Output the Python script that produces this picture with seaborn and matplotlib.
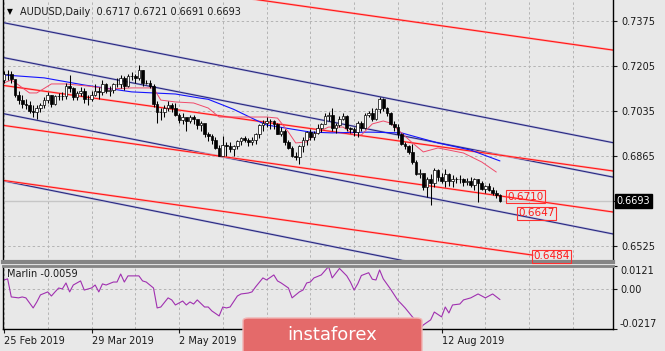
import numpy as np
import pandas as pd
import matplotlib
matplotlib.use('Agg')
import matplotlib.pyplot as plt
import seaborn as sns
from matplotlib.patches import FancyBboxPatch
from matplotlib.transforms import blended_transform_factory

# ------------------------------------------------------------------
# AUDUSD daily bars, 25 Feb 2019 .. 3 Sep 2019
# ------------------------------------------------------------------
FIRST_OPEN = 0.7150
closes = [
    0.7172, 0.7175, 0.7155, 0.7095, 0.7075, 0.7060, 0.7055, 0.7035, 0.7030, 0.7045,
    0.7055, 0.7075, 0.7095, 0.7060, 0.7090, 0.7090, 0.7090, 0.7130, 0.7120, 0.7085,
    0.7100, 0.7110, 0.7080, 0.7080, 0.7095, 0.7110, 0.7105, 0.7135, 0.7110, 0.7115,
    0.7135, 0.7135, 0.7160, 0.7130, 0.7165, 0.7165, 0.7160, 0.7190, 0.7140, 0.7140,
    0.7130, 0.7060, 0.7030, 0.7030, 0.7045, 0.7055, 0.7045, 0.7020, 0.7000, 0.7010,
    0.6995, 0.7010, 0.7005, 0.6980, 0.6990, 0.6945, 0.6940, 0.6925, 0.6895, 0.6865,
    0.6905, 0.6900, 0.6890, 0.6900, 0.6920, 0.6930, 0.6925, 0.6915, 0.6925, 0.6945,
    0.6980, 0.6990, 0.6995, 0.6995, 0.6985, 0.6945, 0.6960, 0.6915, 0.6895, 0.6865,
    0.6860, 0.6900, 0.6925, 0.6955, 0.6935, 0.6950, 0.6970, 0.6985, 0.7015, 0.7020,
    0.6970, 0.6980, 0.7005, 0.7015, 0.6970, 0.6965, 0.6955, 0.6990, 0.6970, 0.7020,
    0.7025, 0.7005, 0.7040, 0.7080, 0.7045, 0.7025, 0.6985, 0.6975, 0.6945, 0.6910,
    0.6900, 0.6880, 0.6840, 0.6795, 0.6800, 0.6745, 0.6775, 0.6760, 0.6810, 0.6785,
    0.6770, 0.6795, 0.6770, 0.6775, 0.6775, 0.6775, 0.6765, 0.6770, 0.6755, 0.6775,
    0.6760, 0.6740, 0.6750, 0.6735, 0.6725, 0.6717, 0.6693,
]
highs = [
    0.7185, 0.7190, 0.7185, 0.7150, 0.7110, 0.7095, 0.7080, 0.7070, 0.7055, 0.7055,
    0.7065, 0.7085, 0.7105, 0.7095, 0.7095, 0.7100, 0.7105, 0.7140, 0.7170, 0.7125,
    0.7110, 0.7125, 0.7120, 0.7095, 0.7110, 0.7135, 0.7125, 0.7150, 0.7140, 0.7130,
    0.7140, 0.7160, 0.7170, 0.7165, 0.7175, 0.7180, 0.7175, 0.7206, 0.7190, 0.7150,
    0.7150, 0.7135, 0.7070, 0.7045, 0.7055, 0.7070, 0.7065, 0.7065, 0.7025, 0.7025,
    0.7000, 0.7020, 0.7020, 0.7000, 0.6995, 0.6985, 0.6955, 0.6945, 0.6935, 0.6905,
    0.6940, 0.6915, 0.6915, 0.6905, 0.6925, 0.6935, 0.6940, 0.6930, 0.6935, 0.6950,
    0.6985, 0.7000, 0.7010, 0.7005, 0.7000, 0.6990, 0.6975, 0.6965, 0.6925, 0.6900,
    0.6880, 0.6905, 0.6935, 0.6960, 0.6965, 0.6960, 0.6985, 0.6990, 0.7025, 0.7030,
    0.7045, 0.6990, 0.7015, 0.7025, 0.7020, 0.6975, 0.6975, 0.6995, 0.6995, 0.7025,
    0.7035, 0.7045, 0.7045, 0.7085, 0.7082, 0.7050, 0.7030, 0.6995, 0.6985, 0.6950,
    0.6915, 0.6905, 0.6910, 0.6850, 0.6815, 0.6790, 0.6785, 0.6795, 0.6820, 0.6815,
    0.6800, 0.6815, 0.6800, 0.6790, 0.6785, 0.6790, 0.6780, 0.6780, 0.6785, 0.6780,
    0.6775, 0.6770, 0.6755, 0.6760, 0.6745, 0.6735, 0.6721,
]
lows = [
    0.7140, 0.7150, 0.7140, 0.7085, 0.7060, 0.7045, 0.7040, 0.7025, 0.7010, 0.7003,
    0.7030, 0.7045, 0.7065, 0.7050, 0.7055, 0.7075, 0.7075, 0.7080, 0.7105, 0.7075,
    0.7075, 0.7090, 0.7065, 0.7055, 0.7070, 0.7090, 0.7080, 0.7095, 0.7100, 0.7090,
    0.7100, 0.7125, 0.7120, 0.7115, 0.7125, 0.7150, 0.7140, 0.7150, 0.7130, 0.7135,
    0.7120, 0.7050, 0.6990, 0.7000, 0.7010, 0.7035, 0.7030, 0.7015, 0.6990, 0.6985,
    0.6960, 0.6990, 0.6985, 0.6965, 0.6960, 0.6935, 0.6920, 0.6910, 0.6890, 0.6865,
    0.6890, 0.6865, 0.6880, 0.6865, 0.6890, 0.6905, 0.6915, 0.6900, 0.6905, 0.6910,
    0.6930, 0.6960, 0.6975, 0.6965, 0.6965, 0.6945, 0.6940, 0.6905, 0.6890, 0.6860,
    0.6850, 0.6832, 0.6880, 0.6905, 0.6925, 0.6925, 0.6945, 0.6955, 0.6985, 0.6995,
    0.6960, 0.6950, 0.6975, 0.7000, 0.6960, 0.6950, 0.6940, 0.6935, 0.6960, 0.6965,
    0.7010, 0.6995, 0.7000, 0.7025, 0.7035, 0.7015, 0.6980, 0.6960, 0.6930, 0.6905,
    0.6890, 0.6870, 0.6835, 0.6790, 0.6780, 0.6735, 0.6710, 0.6677, 0.6745, 0.6770,
    0.6760, 0.6745, 0.6750, 0.6745, 0.6760, 0.6760, 0.6750, 0.6755, 0.6745, 0.6735,
    0.6690, 0.6735, 0.6725, 0.6730, 0.6715, 0.6705, 0.6691,
]

# moving averages (bar index, value)
blue_bars = [0, 11, 22, 35, 47, 54, 56, 63, 69, 72, 84, 90, 100, 109, 119, 128, 136]
blue_ma = [0.7170, 0.7159, 0.7132, 0.7106, 0.7098, 0.7082, 0.7078, 0.7040, 0.7000, 0.6981,
           0.6954, 0.6951, 0.6954, 0.6951, 0.6913, 0.6886, 0.6845]
pink_bars = [0, 2, 4, 7, 9, 13, 17, 23, 29, 35, 41, 43, 47, 52, 56, 59, 63, 67, 72, 75,
             78, 80, 83, 86, 89, 93, 96, 98, 101, 104, 106, 109, 112, 115, 119, 122, 126, 131, 135]
pink_ma = [0.7140, 0.7151, 0.7132, 0.7102, 0.7102, 0.7136, 0.7136, 0.7128, 0.7117, 0.7121,
           0.7121, 0.7075, 0.7068, 0.7064, 0.7045, 0.7011, 0.7011, 0.7011, 0.7011, 0.7007,
           0.6954, 0.6913, 0.6917, 0.6954, 0.6973, 0.6973, 0.6943, 0.6943, 0.6985, 0.6996,
           0.6988, 0.6951, 0.6913, 0.6879, 0.6894, 0.6886, 0.6875, 0.6841, 0.6803]

# Marlin oscillator
marlin_bars = [0, 1, 2, 4, 5, 6, 8, 9, 10, 12, 13, 14, 15, 16, 17, 18, 19, 21, 22, 24, 25, 26,
               27, 28, 30, 31, 32, 33, 34, 35, 37, 38, 39, 41, 42, 43, 45, 46, 47, 49, 50, 51,
               52, 53, 55, 56, 57, 59, 60, 61, 62, 64, 65, 67, 68, 69, 71, 72, 74, 75, 76, 78,
               79, 81, 82, 83, 84, 85, 87, 89, 90, 92, 94, 95, 96, 97, 98, 100, 101, 102, 103,
               104, 106, 108, 109, 110, 112, 113, 114, 115, 117, 118, 120, 121, 122, 123, 125,
               126, 128, 130, 132, 134, 136]
marlin = [0.0046, 0.0052, -0.0045, -0.0050, -0.0045, -0.0050, -0.0104, -0.0072, -0.0034,
          -0.0018, -0.0040, -0.0018, 0.0003, -0.0002, 0.0030, -0.0018, 0.0019, 0.0041, -0.0008,
          0.0003, 0.0019, -0.0018, 0.0025, 0.0019, 0.0035, 0.0035, 0.0078, 0.0035, 0.0068,
          0.0068, 0.0068, 0.0041, 0.0035, 0.0003, -0.0104, -0.0099, -0.0050, -0.0061, -0.0088,
          -0.0067, -0.0088, -0.0072, -0.0083, -0.0061, -0.0099, -0.0099, -0.0120, -0.0147,
          -0.0099, -0.0104, -0.0099, -0.0040, -0.0029, -0.0024, -0.0018, 0.0009, 0.0057,
          0.0046, 0.0073, 0.0041, 0.0030, 0.0003, -0.0050, -0.0018, -0.0008, 0.0030, 0.0035,
          0.0057, 0.0073, 0.0118, 0.0057, 0.0108, 0.0068, 0.0035, -0.0008, 0.0025, 0.0070,
          0.0085, 0.0050, 0.0046, 0.0100, 0.0052, -0.0003, -0.0063, -0.0083, -0.0104, -0.0152,
          -0.0172, -0.0217, -0.0195, -0.0168, -0.0126, -0.0152, -0.0099, -0.0131, -0.0088,
          -0.0083, -0.0061, -0.0050, -0.0029, -0.0050, -0.0029, -0.0059]

# channel lines: price at the first and last bar of trend_bars
trend_bars = [-1, 167]
navy_lines = [[0.7370, 0.6914], [0.7238, 0.6784], [0.7026, 0.6569], [0.6772, 0.6310]]
red_lines = [[0.7592, 0.7264], [0.7132, 0.6807], [0.6981, 0.6652]]
red_short_bars = [-1, 145]
red_short = [0.6773, 0.6489]

tag_prices = [0.6710, 0.6647, 0.6484]
tag_bars = [138, 141, 145.2]

price_ticks = [0.7375, 0.7205, 0.7035, 0.6865, 0.6695, 0.6525]
date_ticks = [0, 24, 48, 72, 96, 120]
# labels at 72 and 96 sit under the watermark in the original
date_labels = ['25 Feb 2019', '29 Mar 2019', '2 May 2019', '', '', '12 Aug 2019']
last = dict(o=0.6717, h=0.6721, l=0.6691, c=0.6693)
marlin_last = -0.0059

# ------------------------------------------------------------------
sns.set_theme(style="white")
plt.rcParams.update({
    'font.family': ['DejaVu Sans'],
    'font.size': 7,
    'axes.linewidth': 1.0,
})

BG = '#e8e8e8'
GRID = '#b4b4b4'
W, H = 665, 351

fig = plt.figure(figsize=(W / 100, H / 100), dpi=100, facecolor=BG)
ax = fig.add_axes([3 / W, 1 - 262 / H, 610 / W, 262 / H], facecolor=BG)
axm = fig.add_axes([3 / W, 1 - 329 / H, 610 / W, 63 / H], facecolor=BG, sharex=ax)

df = pd.DataFrame({'close': closes, 'high': highs, 'low': lows})
df['bar'] = np.arange(len(df))
df['open'] = [FIRST_OPEN] + closes[:-1]
up = df['close'] >= df['open']

# grid
for a in (ax, axm):
    a.set_xticks(date_ticks)
    a.set_xticks([b for b in range(12, 168, 12) if b not in date_ticks], minor=True)
    a.grid(True, axis='x', which='both', color=GRID, linestyle=(0, (2.5, 2.5)), lw=0.7)
ax.set_yticks(price_ticks)
ax.grid(True, axis='y', color=GRID, linestyle=(0, (2.5, 2.5)), lw=0.7)
axm.axhline(0, color=GRID, linestyle=(0, (2.5, 2.5)), lw=0.7)

# bid line
ax.axhline(last['c'], color='#c6c6c6', lw=1.0, zorder=1)

# channels
for lv in navy_lines:
    ax.plot(trend_bars, lv, color='#b0b0d8', lw=1.5, zorder=2)
    ax.plot(trend_bars, lv, color='#22227a', lw=0.7, zorder=2)
for lv in red_lines:
    ax.plot(trend_bars, lv, color='#ffa0a0', lw=1.5, zorder=2)
    ax.plot(trend_bars, lv, color='#ff1010', lw=0.7, zorder=2)
ax.plot(red_short_bars, red_short, color='#ffa0a0', lw=1.5, zorder=2)
ax.plot(red_short_bars, red_short, color='#ff1010', lw=0.7, zorder=2)

# moving averages
sns.lineplot(x=blue_bars, y=blue_ma, color='#1414ff', lw=0.8, ax=ax, zorder=3)
sns.lineplot(x=pink_bars, y=pink_ma, color='#f04a6a', lw=0.7, ax=ax, zorder=3)

# candles
ax.vlines(df['bar'], df['low'], df['high'], color='black', lw=0.75, zorder=4)
body = (df['close'] - df['open']).abs().clip(lower=0.00008)
ax.bar(df['bar'], body, bottom=np.minimum(df['open'], df['close']), width=0.72,
       color=np.where(up, 'white', 'black'), edgecolor='black', linewidth=0.5, zorder=5)

# price tags
for b, p in zip(tag_bars, tag_prices):
    ax.text(b, p, f'{p:.4f}', color='#ff1a1a', fontsize=7.5, ha='left', va='center', zorder=6,
            bbox=dict(boxstyle='square,pad=0.12', fc='none', ec='#ff3030', lw=0.8))

ax.set_xlim(-0.27, 167.0)
ax.set_ylim(0.6463, 0.74533)
ax.yaxis.tick_right()
ax.set_yticklabels(['' if abs(t - 0.6695) < 1e-6 else f'{t:.4f}' for t in price_ticks])
ax.tick_params(axis='y', which='both', right=True, length=3, width=0.8, pad=3,
               labelsize=7, colors='#1a1a1a')
ax.tick_params(axis='x', which='both', bottom=False, labelbottom=False, length=0)
ax.set_xlabel('')
ax.set_ylabel('')

# current price box
trans = blended_transform_factory(ax.transAxes, ax.transData)
ax.text(1.006, last['c'], f"{last['c']:.4f}", transform=trans, color='white', fontsize=7,
        ha='left', va='center', clip_on=False, zorder=7,
        bbox=dict(boxstyle='square,pad=0.2', fc='black', ec='black'))

for s in ('left', 'right'):
    ax.spines[s].set_color('black')
ax.spines['top'].set_visible(False)
ax.spines['bottom'].set_color('#858585')
ax.spines['bottom'].set_linewidth(3)

# Marlin panel
sns.lineplot(x=marlin_bars, y=marlin, color='#a030b0', lw=0.8, ax=axm)
axm.set_ylim(-0.0217, 0.0121)
axm.yaxis.tick_right()
axm.set_yticks([0.0121, 0.0, -0.0217])
axm.set_yticklabels(['0.0121', '0.00', '-0.0217'])
ylabs = axm.get_yticklabels()
ylabs[0].set_va('top')
ylabs[2].set_va('bottom')
axm.tick_params(axis='y', right=True, length=3, width=0.8, pad=2, labelsize=7, colors='#1a1a1a')
axm.set_xticklabels(date_labels, ha='left')
axm.tick_params(axis='x', which='major', bottom=True, length=3, width=0.8, pad=2,
                labelsize=7, colors='#1a1a1a')
axm.tick_params(axis='x', which='minor', bottom=False, length=0)
axm.set_xlabel('')
axm.set_ylabel('')
for s in ('left', 'right', 'bottom'):
    axm.spines[s].set_color('black')
axm.spines['top'].set_color('#858585')
axm.spines['top'].set_linewidth(2)

# header texts
fig.text(7 / W, 1 - 12 / H, '\u25BC', fontsize=5.5, color='black', va='center')
fig.text(20 / W, 1 - 12 / H,
         f"AUDUSD,Daily  {last['o']:.4f} {last['h']:.4f} {last['l']:.4f} {last['c']:.4f}",
         fontsize=7, color='#1a1a1a', va='center')
fig.text(7 / W, 1 - 274 / H, f'Marlin {marlin_last:.4f}', fontsize=7, color='#1a1a1a', va='center')

# watermark
fig.add_artist(FancyBboxPatch((243 / W, -0.05), 179 / W, 33 / H + 0.05,
                              boxstyle='round,pad=0,rounding_size=0.008',
                              transform=fig.transFigure, fc='#e46a6a', ec='#f2b4b4',
                              lw=1.0, zorder=20))
fig.text(332 / W, 1 - 335 / H, 'instaforex', color='white', fontsize=13,
         ha='center', va='center', zorder=21)

fig.savefig('out.png', dpi=100, facecolor=BG)
